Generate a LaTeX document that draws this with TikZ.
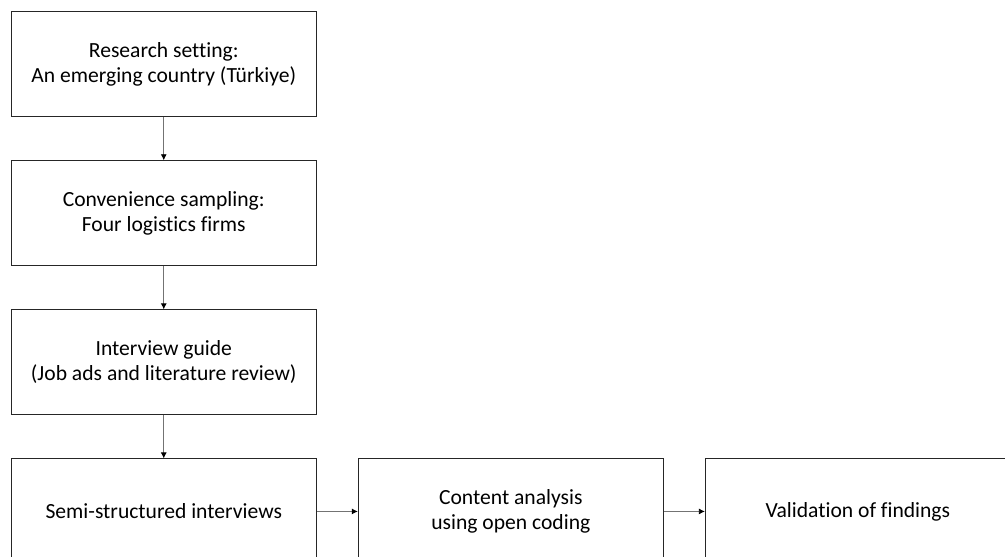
\documentclass[tikz,border=0pt]{standalone}
\usepackage{fontspec}
\setmainfont{Carlito}[Ligatures=NoCommon]
\usetikzlibrary{positioning,arrows.meta}
\begin{document}
\begin{tikzpicture}[x=0.75pt,y=-0.75pt,
    stagebox/.style={draw=black!85,line width=0.8pt,minimum width=228.75pt,minimum height=78.75pt,
        inner sep=0pt,align=center,font=\fontsize{16.2}{18.75}\selectfont},
    flow/.style={draw=black!55,line width=0.6pt,-{Latex[length=4.5pt,width=4.5pt,black]}}]
    \useasboundingbox (0,0) rectangle (1005,556);
    %% left column
    \node[stagebox] (research) at (163.75,64.25) {Research setting:\\An emerging country (Türkiye)};
    \node[stagebox,below=32.25pt of research] (sampling) {Convenience sampling:\\Four logistics firms};
    \node[stagebox,below=32.25pt of sampling] (guide) {Interview guide\\(Job ads and literature review)};
    \node[stagebox,below=32.25pt of guide] (interviews) {Semi-structured interviews};
    %% bottom row
    \node[stagebox,right=30.75pt of interviews] (analysis) {Content analysis\\using open coding};
    \node[stagebox,right=30.75pt of analysis] (validation) {Validation of findings};
    %% arrows
    \draw[flow] (research) -- (sampling);
    \draw[flow] (sampling) -- (guide);
    \draw[flow] (guide) -- (interviews);
    \draw[flow] (interviews) -- (analysis);
    \draw[flow] (analysis) -- (validation);
\end{tikzpicture}
\end{document}
